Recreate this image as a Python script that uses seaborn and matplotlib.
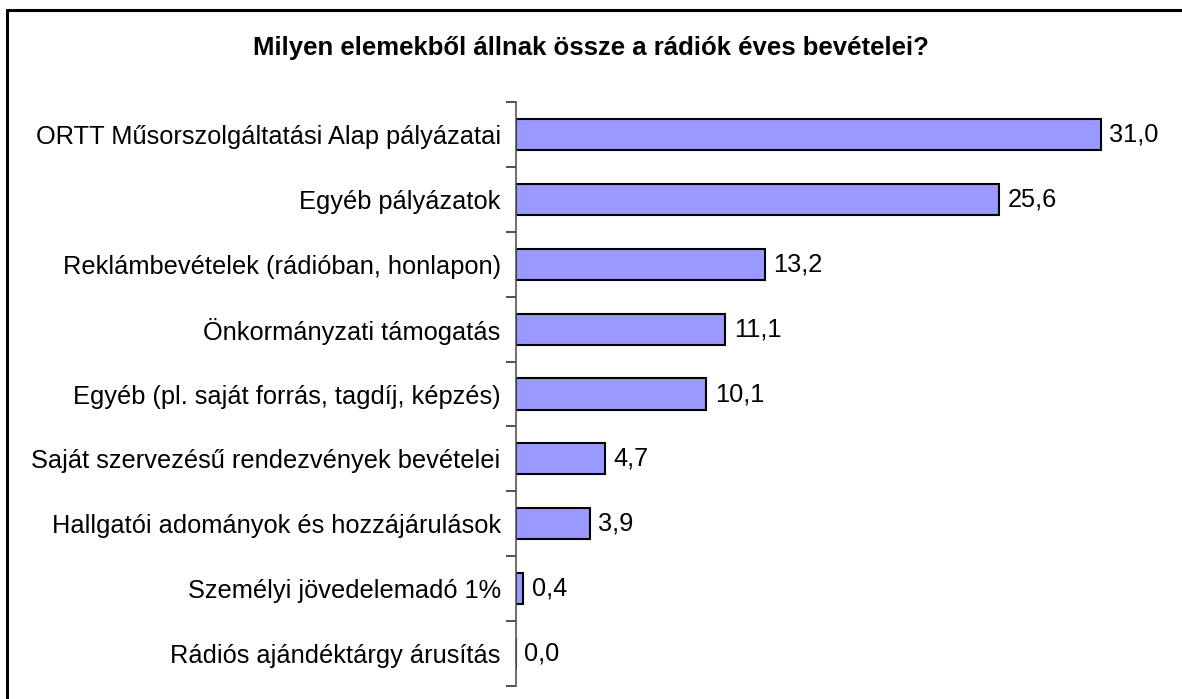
import pandas as pd
import numpy as np
import matplotlib.pyplot as plt
import seaborn as sns
from matplotlib.lines import Line2D

# Chart data
categories = [
    "ORTT Műsorszolgáltatási Alap pályázatai",
    "Egyéb pályázatok",
    "Reklámbevételek (rádióban, honlapon)",
    "Önkormányzati támogatás",
    "Egyéb (pl. saját forrás, tagdíj, képzés)",
    "Saját szervezésű rendezvények bevételei",
    "Hallgatói adományok és hozzájárulások",
    "Személyi jövedelemadó 1%",
    "Rádiós ajándéktárgy árusítás",
]
values = [31.0, 25.6, 13.2, 11.1, 10.1, 4.7, 3.9, 0.4, 0.0]
title = "Milyen elemekből állnak össze a rádiók éves bevételei?"

df = pd.DataFrame({"Kategória": categories, "Érték": values})

sns.set_theme(style="white")
plt.rcParams['font.family'] = ['Liberation Sans', 'DejaVu Sans']
plt.rcParams['text.color'] = 'black'

fig = plt.figure(figsize=(11.82, 6.99), dpi=100)
ax = fig.add_axes([0.4365, 0.0186, 0.5585, 0.8354])

sns.barplot(data=df, x="Érték", y="Kategória", color="#9999FF",
            saturation=1, edgecolor="black", linewidth=1.5, width=0.48, ax=ax)

ax.set_xlim(0, 35)
ax.set_ylim(len(categories) - 0.5, -0.5)
ax.set_xlabel("")
ax.set_ylabel("")
ax.set_xticks([])

for s in ["top", "right", "bottom"]:
    ax.spines[s].set_visible(False)
ax.spines["left"].set_color("#555555")
ax.spines["left"].set_linewidth(1.2)

ax.tick_params(axis="y", which="major", length=0, labelsize=18.3, pad=11, labelcolor="black")
ax.set_yticks(np.arange(-0.5, len(categories), 1), minor=True)
ax.tick_params(axis="y", which="minor", left=True, length=7, width=1.2, color="#333333")

for i, v in enumerate(values):
    ax.text(v + 0.45, i, f"{v:.1f}".replace(".", ","), va="center", ha="left",
            fontsize=18.3, color="black")

fig.text(0.5, 0.932, title, ha="center", va="center", fontsize=18.5,
         fontweight="bold", color="black")

# frame around the chart
fig.add_artist(Line2D([0.0055, 1.0], [0.986, 0.986], color="black", lw=2.2))
fig.add_artist(Line2D([0.0055, 0.0055], [0.0, 0.986], color="black", lw=2.2))

fig.savefig("out.png", dpi=100)
